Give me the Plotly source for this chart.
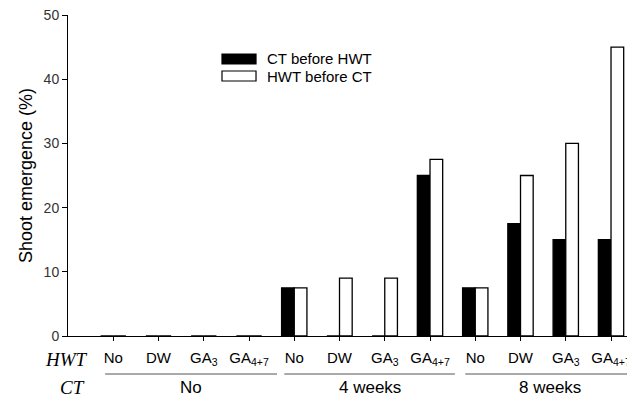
import plotly.graph_objects as go

hwt_labels = ["No", "DW", "GA<sub>3</sub>", "GA<sub>4+7</sub>",
              "No", "DW", "GA<sub>3</sub>", "GA<sub>4+7</sub>",
              "No", "DW", "GA<sub>3</sub>", "GA<sub>4+7</sub>"]
ct_groups = ["No", "4 weeks", "8 weeks"]
ct_before_hwt = [0, 0, 0, 0, 7.5, 0, 0, 25, 7.5, 17.5, 15, 15]
hwt_before_ct = [0, 0, 0, 0, 7.5, 9, 9, 27.5, 7.5, 25, 30, 45]
series_names = ["CT before HWT", "HWT before CT"]

x = list(range(len(hwt_labels)))
FONT = "Liberation Sans, Arial, sans-serif"

fig = go.Figure()
fig.add_trace(go.Bar(x=x, y=ct_before_hwt, name=series_names[0],
                     marker=dict(color="black", line=dict(color="black", width=1.3))))
fig.add_trace(go.Bar(x=x, y=hwt_before_ct, name=series_names[1],
                     marker=dict(color="white", line=dict(color="black", width=1.3))))

# manual legend (wide rectangles as in the reference)
leg_y = [(0.8785, 0.8474), (0.8255, 0.7944)]
fills = ["black", "white"]
for (y1, y0), fc, nm in zip(leg_y, fills, series_names):
    fig.add_shape(type="rect", xref="paper", yref="paper", x0=0.2716, x1=0.3316,
                  y0=y0, y1=y1, fillcolor=fc, line=dict(color="black", width=1.2))
    fig.add_annotation(xref="paper", yref="paper", x=0.3474, y=(y0 + y1) / 2,
                       text=nm, showarrow=False, xanchor="left", yanchor="middle",
                       font=dict(family=FONT, size=15, color="black"))

# row labels
fig.add_annotation(xref="paper", yref="paper", x=0.039, y=-0.0717, text="<i>HWT</i>",
                   showarrow=False, xanchor="right", yanchor="middle",
                   font=dict(family="Liberation Serif, Times New Roman, serif", size=19, color="black"))
fig.add_annotation(xref="paper", yref="paper", x=0.034, y=-0.1589, text="<i>CT</i>",
                   showarrow=False, xanchor="right", yanchor="middle",
                   font=dict(family="Liberation Serif, Times New Roman, serif", size=19, color="black"))

# CT group lines and labels
group_spans = [(-0.18, 3.62), (3.78, 7.55), (7.78, 11.62)]
group_centers = [1.72, 5.67, 9.65]
for (a, b), c, lab in zip(group_spans, group_centers, ct_groups):
    fig.add_shape(type="line", xref="x", yref="paper", x0=a, x1=b, y0=-0.1184, y1=-0.1184,
                  line=dict(color="#555555", width=1))
    fig.add_annotation(xref="x", yref="paper", x=c, y=-0.1589, text=lab, showarrow=False,
                       xanchor="center", yanchor="middle",
                       font=dict(family=FONT, size=17, color="black"))

# the page body has an 8px default margin, so the figure is 8px smaller
fig.update_layout(
    width=627, height=394,
    margin=dict(l=60, r=0, t=7, b=66),
    paper_bgcolor="white", plot_bgcolor="white",
    barmode="group", bargap=0.44, bargroupgap=0,
    showlegend=False,
    font=dict(family=FONT, color="black"),
)
fig.update_xaxes(
    automargin=False,
    range=[-1, 11.53], tickvals=x, ticktext=hwt_labels,
    showline=True, linecolor="black", linewidth=1,
    ticks="outside", ticklen=4, tickcolor="black",
    ticklabelstandoff=4, ticklabeloverflow="allow",
    showgrid=False, zeroline=False,
    tickfont=dict(family=FONT, size=15, color="black"),
)
fig.update_yaxes(
    automargin=False,
    range=[0, 50], dtick=10, tick0=0,
    showline=True, linecolor="black", linewidth=1,
    ticks="outside", ticklen=5, tickcolor="black",
    ticklabeloverflow="allow",
    showgrid=False, zeroline=False,
    tickfont=dict(family=FONT, size=14, color="#333333"),
    title=dict(text="Shoot emergence (%)", standoff=6,
               font=dict(family=FONT, size=18, color="black")),
)

fig.write_html("out.html")
